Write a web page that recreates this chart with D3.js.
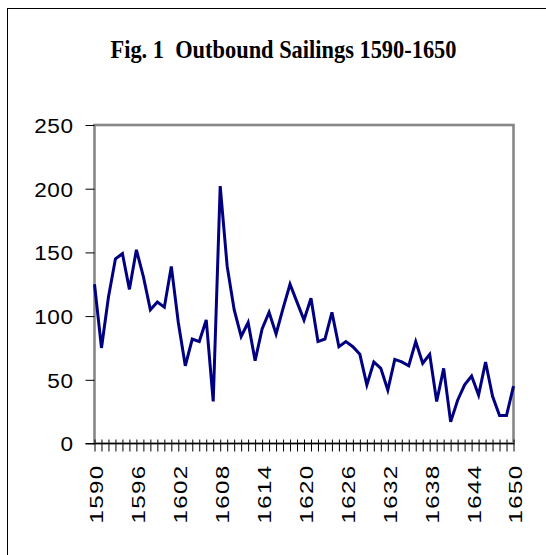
<!DOCTYPE html>
<html><head><meta charset="utf-8">
<script src="https://cdn.jsdelivr.net/npm/d3@7"></script>
<style>html,body{margin:0;padding:0;background:#fff;overflow:hidden}</style>
</head><body>
<script>
const years = ["1590","1591","1592","1593","1594","1595","1596","1597","1598","1599",
"1600","1601","1602","1603","1604","1605","1606","1607","1608","1609",
"1610","1611","1612","1613","1614","1615","1616","1617","1618","1619",
"1620","1621","1622","1623","1624","1625","1626","1627","1628","1629",
"1630","1631","1632","1633","1634","1635","1636","1637","1638","1639",
"1640","1641","1642","1643","1644","1645","1646","1647","1648","1649","1650"];
const sailings = [125,75,115,145,149,121,152,131,105,111,
107,139,95,61,82,80,97,33,202,139,
105,84,95,65,90,103,86,106,125,111,
97,114,80,82,103,76,80,76,70,46,
64,59,42,66,64,61,80,63,70,33,
59,17,34,46,53,38,64,37,22,22,45];
const xTickLabels = ["1590","1596","1602","1608","1614","1620","1626","1632","1638","1644","1650"];
const yTickValues = [0,50,100,150,200,250];
const chartTitle = "Fig. 1  Outbound Sailings 1590-1650";

const W = 546, H = 555;
const svg = d3.select("body").append("svg").attr("width", W).attr("height", H);

// outer frame
svg.append("rect").attr("x", 7.5).attr("y", 8.5).attr("width", 700).attr("height", 700)
  .attr("fill", "none").attr("stroke", "#000").attr("stroke-width", 1);

// title
svg.append("text").attr("x", 283.5).attr("y", 58).attr("text-anchor", "middle")
  .style("white-space", "pre")
  .attr("font-family", "'Liberation Serif', 'Times New Roman', serif").attr("font-weight", "bold")
  .attr("font-size", 25).attr("textLength", 346).attr("lengthAdjust", "spacingAndGlyphs")
  .attr("fill", "#000").text(chartTitle);

const pLeft = 94.5, pRight = 513.5, pTop = 125, pBottom = 443.5;
const x = d3.scalePoint().domain(years).range([pLeft, pRight]);
const y = d3.scaleLinear().domain([0, 250]).range([pBottom, pTop]);

// plot area border (gray)
svg.append("rect").attr("x", pLeft).attr("y", pTop).attr("width", pRight - pLeft).attr("height", pBottom - pTop)
  .attr("fill", "none").attr("stroke", "#878787").attr("stroke-width", 2.6);

// y axis ticks
const yAxis = d3.axisLeft(y).tickValues(yTickValues).tickSize(9).tickPadding(13).tickFormat(d3.format("d"));
const gy = svg.append("g").attr("transform", `translate(${pLeft},0)`).call(yAxis);
gy.select(".domain").remove();
gy.selectAll(".tick line").attr("stroke", "#000").attr("stroke-width", 1);
gy.selectAll(".tick text")
  .attr("font-family", "'Liberation Sans', Arial, sans-serif").attr("font-size", 20.5)
  .attr("fill", "#000")
  .style("letter-spacing", "0.5px")
  .attr("lengthAdjust", "spacingAndGlyphs")
  .attr("textLength", d => String(d).length * 13.1)
  .attr("x", -21).attr("dy", "0.36em");

// x axis line and cross ticks
svg.append("line").attr("x1", pLeft - 9).attr("x2", pRight).attr("y1", pBottom).attr("y2", pBottom)
  .attr("stroke", "#000").attr("stroke-width", 1);
const xAxis = d3.axisBottom(x).tickSize(8).tickFormat(d => xTickLabels.includes(d) ? d : "");
const gx = svg.append("g").attr("transform", `translate(0,${pBottom})`).call(xAxis);
gx.select(".domain").remove();
gx.selectAll(".tick line").attr("y1", -4).attr("y2", 8).attr("stroke", "#000").attr("stroke-width", 1);
gx.selectAll(".tick text").filter(d => !xTickLabels.includes(d)).remove();
gx.selectAll(".tick text")
  .attr("font-family", "'Liberation Sans', Arial, sans-serif").attr("font-size", 18.5)
  .attr("fill", "#000")
  .style("letter-spacing", "1px")
  .attr("text-anchor", "end")
  .attr("lengthAdjust", "spacingAndGlyphs").attr("textLength", 59)
  .attr("transform", "translate(1.8,0) rotate(-90)")
  .attr("x", -21).attr("y", 0).attr("dy", "0.36em");

// line
const line = d3.line().x((d, i) => x(years[i])).y(d => y(d));
svg.append("path").datum(sailings).attr("d", line).attr("fill", "none")
  .attr("stroke", "#000080").attr("stroke-width", 3).attr("stroke-linejoin", "miter").attr("stroke-miterlimit", 4);
</script>
</body></html>
